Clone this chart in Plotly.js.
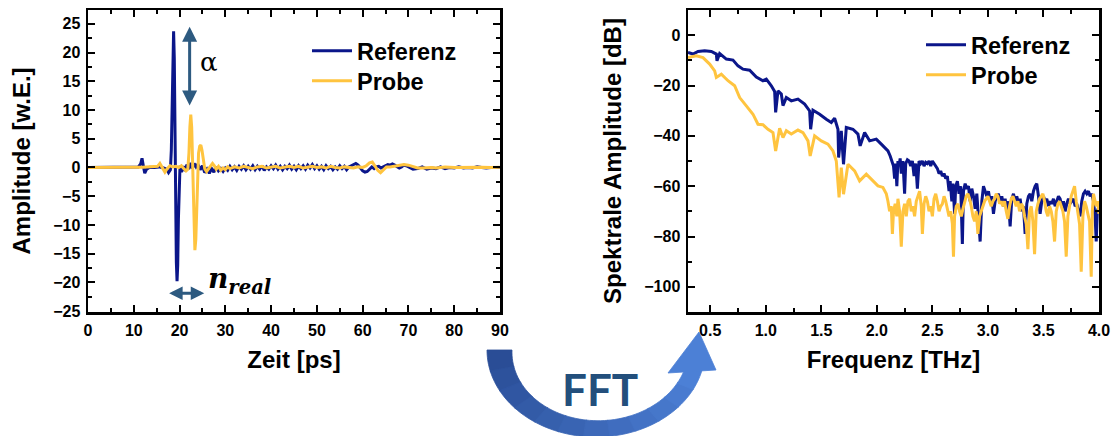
<!DOCTYPE html>
<html><head><meta charset="utf-8">
<script src="https://cdn.plot.ly/plotly-3.0.1.min.js"></script>
<style>html,body{margin:0;padding:0;background:#fff}#chart{width:1116px;height:436px}</style>
</head><body><div id="chart"></div>
<script>
// ---------- time domain (left) ----------
const timeRef = [0,2,4,6,8,10,11,11.5,11.8,12.1,12.4,12.8,13.5,14.5,15.5,16.5,17.2,17.6,18.0,18.2,18.4,18.55,18.7,18.85,19.0,19.15,19.3,19.45,19.6,19.75,19.9,20.1,20.4,20.8,21.2,21.6,22.0,22.4,22.8,23.2,23.6,24.0,24.5,25.0,25.5,26.0,26.5,27.0,27.5,28.0,28.5,29.0,29.5,30.0,30.5,31,31.5,32,32.5,33,33.5,34,34.5,35,35.5,36,36.5,37,37.5,38,38.5,39,39.5,40,40.5,41,41.5,42,42.5,43,43.5,44,44.5,45,45.5,46,46.5,47,47.5,48,48.5,49,49.5,50,50.5,51,51.5,52,52.5,53,53.5,54,54.5,55,55.5,56,56.5,57,57.5,58,58.5,59,59.5,60,60.5,61,61.5,62,62.5,63,63.5,64,64.5,65,65.5,66,66.5,67,67.5,68,68.5,69,69.5,70,71,72,73,74,75,76,77,78,79,80,81,82,83,84,85,86,87,88,89,90];
const ampRef = [0,0,0,0.05,0,0.05,0.1,0.6,1.6,0.2,-1.0,-0.3,0.05,0,0.1,-0.1,-0.3,-0.9,-0.4,3,12,20,23.7,19,6,-8,-16.5,-19.8,-17,-9,-2,0.3,-0.8,0.2,-0.6,0.5,-0.3,0.8,-0.2,0.7,0.1,0.6,-0.4,0.3,-0.9,-0.3,-1.0,-0.2,-0.8,0.1,-0.6,-0.2,-0.7,-0.1,-0.5,0.2,-0.4,0.1,-0.5,0.2,-0.3,0.3,-0.4,0.2,-0.3,0.3,-0.4,0.2,-0.3,0.3,-0.5,0.1,-0.3,0.3,-0.2,0.4,-0.3,0.2,-0.4,0.2,-0.2,0.4,-0.3,0.2,-0.4,0.3,-0.2,0.3,-0.3,0.4,-0.1,0.5,-0.2,0.3,-0.3,0.2,-0.4,0.3,-0.2,0.2,-0.4,0.1,-0.3,0.3,-0.2,0.2,-0.4,0.1,0.3,0.5,0.7,0.4,-0.2,-0.6,-0.8,-0.7,-0.3,0.1,-0.2,0.1,0.2,-0.1,0.1,0.3,0.5,0.4,0.6,0.4,0.2,-0.1,0.1,0.4,0.3,0.1,-0.3,-0.2,0.1,-0.3,-0.1,-0.2,0.1,-0.2,0,-0.1,0.1,-0.1,0,-0.1,0.1,0,-0.1,0,0.05,0];
const timeProbe = [0,3,6,9,12,14,15.2,15.7,16.2,16.8,17.3,17.9,18.5,19.2,19.8,20.4,20.9,21.4,21.8,22.05,22.25,22.45,22.65,22.85,23.0,23.15,23.35,23.55,23.75,23.95,24.15,24.4,24.65,24.9,25.2,25.5,25.9,26.3,26.8,27.2,27.6,28.0,28.5,29.0,29.5,30,30.5,31,32,33,34,35,36,37,38,39,40,41,42,43,44,45,46,47,48,49,50,51,52,53,54,55,56,57,58,59,60,60.8,61.5,62.1,62.7,63.3,63.9,64.5,65.2,66,67,68,69,70,71,72,73,74,75,76,77,78,80,82,84,86,88,90];
const ampProbe = [0,0.05,0,0.05,0.05,0.1,0.2,0.7,0.1,-0.8,-0.2,0.3,0.1,0.2,0,0.3,-0.2,-0.6,-0.3,2.5,7,9.2,7,1.5,-5,-11,-14.4,-12.5,-6,-0.5,2.5,3.7,3.9,3.0,1.2,-0.2,-0.7,-0.2,0.2,0.7,0.3,-0.3,0.2,-0.5,-0.1,-0.4,0.1,-0.2,0.1,-0.1,0.2,0,-0.2,0.1,0.2,-0.1,0.1,0.2,-0.1,0.1,0.2,0,0.2,-0.1,0.1,0.2,0,0.1,-0.1,0.2,0,-0.1,0.1,0,-0.1,0.1,0,0.3,0.8,0.95,0.3,-0.5,-0.9,-0.4,0.1,0.1,0.2,0.3,0.5,0.4,0.2,-0.1,-0.1,0,0,-0.1,0,0.1,0,0.05,0,0.05,0,0.05];

// ---------- spectrum (right) ----------
const freqRef = [0.30,0.345,0.39,0.45,0.51,0.555,0.561,0.585,0.645,0.705,0.75,0.795,0.855,0.915,0.975,1.005,1.05,1.08,1.089,1.11,1.14,1.155,1.185,1.23,1.29,1.35,1.395,1.404,1.425,1.485,1.545,1.59,1.62,1.65,1.656,1.68,1.70,1.725,1.785,1.83,1.85,1.89,1.935,1.995,2.04,
  2.10,2.12,2.135,2.15,2.16,2.17,2.18,2.19,2.2,2.21,2.22,2.235,2.25,2.26,2.275,2.29,2.305,2.32,2.335,2.35,2.365,2.38,2.395,2.41,2.425,2.44,2.455,2.47,2.485,2.5,2.515,2.53,2.545,2.56,2.575,2.59,2.605,2.62,2.635,2.65,2.66,2.675,2.685,2.7,2.71,2.725,2.74,2.755,2.77,2.78,2.795,2.81,2.825,2.84,2.855,2.87,2.885,2.9,2.915,2.93,2.945,2.96,2.975,2.99,3.005,3.02,3.035,3.05,3.065,3.08,3.095,3.11,3.125,3.14,3.155,3.17,3.185,3.2,3.215,3.23,3.245,3.26,3.275,3.29,3.305,3.32,3.335,3.35,3.365,3.38,3.395,3.41,3.425,3.44,3.455,3.47,3.485,3.5,3.515,3.53,3.545,3.56,3.575,3.59,3.605,3.62,3.635,3.65,3.665,3.68,3.695,3.71,3.725,3.74,3.755,3.77,3.785,3.8,3.815,3.83,3.845,3.86,3.875,3.89,3.905,3.92,3.935,3.95,3.965,3.975,3.985,4.0];
const dbRef = [-6.9,-7.5,-6.5,-6.2,-6.5,-7.5,-10.2,-7.3,-9.5,-9.9,-12.2,-13.5,-13.9,-16.6,-18.1,-17.5,-20.1,-22.4,-30.7,-22.1,-23.4,-28,-24.8,-26.1,-25.4,-27.4,-30.1,-37.4,-29.8,-31.4,-33.4,-34.7,-33,-37.4,-48.6,-38,-51.3,-36.7,-37.4,-39.3,-44,-38.7,-42,-41.3,-43.3,
  -46,-48,-50,-52,-57,-51,-60,-50,-52,-49,-55,-50,-63,-51,-49.5,-50,-52,-50,-56,-51,-61,-50,-51,-50,-52,-50.5,-51,-50,-52,-50,-51,-52,-53,-55,-54,-56,-55,-57,-56,-62,-58,-66,-59,-71,-60,-58,-63,-60,-83,-62,-59,-61,-60,-66,-61,-64,-69,-63,-74,-82,-66,-60,-62,-64,-62,-66,-64,-71,-66,-64,-63,-67,-64,-68,-65,-70,-66,-76,-65,-63,-66,-64,-67,-65,-70,-68,-79,-67,-64,-63,-66,-62,-60,-59,-64,-71,-66,-64,-66,-65,-68,-66,-67,-65,-68,-66,-64,-65,-68,-66,-70,-67,-65,-67,-66,-65,-68,-67,-70,-72,-66,-63,-62,-63,-62,-64,-63,-66,-72,-82,-70,-68];
const freqProbe = [0.30,0.375,0.435,0.495,0.54,0.555,0.6,0.66,0.72,0.765,0.825,0.885,0.93,0.975,1.02,1.065,1.089,1.125,1.155,1.185,1.23,1.29,1.335,1.38,1.40,1.44,1.50,1.56,1.605,1.635,1.66,1.68,1.70,1.74,1.80,1.845,1.905,1.965,2.01,2.055,
  2.085,2.1,2.115,2.13,2.14,2.15,2.165,2.18,2.19,2.205,2.22,2.235,2.25,2.265,2.28,2.295,2.31,2.325,2.34,2.355,2.37,2.385,2.4,2.41,2.425,2.44,2.455,2.47,2.485,2.5,2.515,2.53,2.545,2.56,2.575,2.59,2.605,2.62,2.635,2.65,2.665,2.68,2.69,2.7,2.715,2.73,2.745,2.76,2.775,2.79,2.805,2.82,2.835,2.85,2.865,2.88,2.895,2.91,2.925,2.94,2.955,2.97,2.985,3.0,3.015,3.03,3.045,3.06,3.075,3.09,3.105,3.12,3.135,3.15,3.165,3.18,3.195,3.21,3.225,3.24,3.255,3.27,3.285,3.3,3.315,3.33,3.345,3.36,3.375,3.39,3.405,3.42,3.435,3.45,3.465,3.48,3.495,3.51,3.525,3.54,3.555,3.57,3.585,3.6,3.615,3.63,3.645,3.66,3.675,3.69,3.705,3.72,3.735,3.75,3.765,3.78,3.795,3.81,3.825,3.84,3.855,3.87,3.885,3.9,3.915,3.93,3.94,3.95,3.965,3.975,3.99,4.0];
const dbProbe = [-8.9,-8.2,-8.9,-11.5,-14.2,-16.8,-15.5,-18.1,-20.1,-24.8,-28.1,-31.4,-35.4,-35.6,-37.4,-38.7,-46,-37,-40.7,-38,-39.3,-37.7,-38.7,-42,-48,-40,-42,-43.3,-46,-50,-64.5,-52.6,-63.2,-51.3,-53.9,-57.9,-55.2,-57.9,-59.9,-60.5,
  -63,-66,-70,-68,-79,-70,-67,-72,-65,-70,-84,-70,-67,-72,-66,-65,-70,-68,-72,-66,-64,-62,-68,-79,-67,-64,-66,-70,-68,-72,-65,-63,-66,-70,-68,-67,-64,-66,-69,-72,-70,-75,-88,-72,-68,-67,-70,-72,-69,-66,-64,-63,-65,-68,-72,-74,-70,-79,-72,-70,-68,-66,-65,-64,-66,-68,-66,-65,-63,-64,-67,-66,-68,-66,-70,-73,-68,-65,-64,-66,-68,-66,-70,-67,-68,-72,-75,-85,-70,-68,-74,-87,-70,-67,-65,-64,-63,-66,-70,-72,-68,-70,-74,-82,-70,-67,-66,-68,-70,-74,-88,-72,-68,-64,-62,-60,-66,-71,-75,-94,-72,-66,-68,-71,-74,-96,-70,-63,-66,-68,-66,-71];

const seriesNames = ['Referenz','Probe'];
const colRef = '#0b168a', colProbe = '#ffc43f';

const W = 1116, H = 436;
const px = x => x / W, py = y => 1 - y / H;
const FONT = 'Arial, "Liberation Sans", sans-serif';

const traces = [
  {x: timeRef, y: ampRef, name: seriesNames[0], type: 'scatter', mode: 'lines', line: {color: colRef, width: 3}, xaxis: 'x', yaxis: 'y', legend: 'legend'},
  {x: timeProbe, y: ampProbe, name: seriesNames[1], type: 'scatter', mode: 'lines', line: {color: colProbe, width: 3}, xaxis: 'x', yaxis: 'y', legend: 'legend2'},
  {x: freqRef, y: dbRef, name: seriesNames[0], type: 'scatter', mode: 'lines', line: {color: colRef, width: 3}, xaxis: 'x2', yaxis: 'y2', legend: 'legend3'},
  {x: freqProbe, y: dbProbe, name: seriesNames[1], type: 'scatter', mode: 'lines', line: {color: colProbe, width: 3}, xaxis: 'x2', yaxis: 'y2', legend: 'legend4'}
];

const tickFont = {family: FONT, size: 16, color: '#000', weight: 'bold'};
const titleFont = {family: FONT, size: 24, color: '#000', weight: 'bold'};
const axBase = {
  showgrid: false, zeroline: false, showline: true, linecolor: '#000', linewidth: 2.5,
  mirror: 'ticks', ticks: 'inside', ticklen: 7, tickwidth: 2, tickcolor: '#000',
  tickfont: tickFont, ticklabelstandoff: 2
};
const minorT = d => ({dtick: d, ticks: 'inside', ticklen: 4, tickwidth: 2, tickcolor: '#000'});
const dom = [py(312), py(10)];
const legFont = {family: FONT, size: 23.5, color: '#000', weight: 'bold'};
const leg = (x, y) => ({x: px(x), y: py(y), xanchor: 'left', yanchor: 'middle', bgcolor: 'rgba(0,0,0,0)',
  font: legFont, itemwidth: 40, borderwidth: 0});

const layout = {
  width: W, height: H, margin: {l: 0, r: 0, t: 0, b: 0},
  paper_bgcolor: '#fff', plot_bgcolor: '#fff', showlegend: true,
  xaxis: Object.assign({}, axBase, {domain: [px(88), px(500)], range: [0, 90], dtick: 10, tick0: 0, minor: minorT(5),
    title: {text: 'Zeit [ps]', font: titleFont, standoff: 14}, anchor: 'y'}),
  yaxis: Object.assign({}, axBase, {domain: dom, range: [-25.15, 27.4], dtick: 5, tick0: 0, minor: minorT(2.5),
    title: {text: 'Amplitude [w.E.]', font: titleFont, standoff: 16}, anchor: 'x'}),
  xaxis2: Object.assign({}, axBase, {domain: [px(688), px(1099)], range: [0.3, 4.0], dtick: 0.5, tick0: 0, tickformat: '.1f', minor: minorT(0.25),
    title: {text: 'Frequenz [THz]', font: titleFont, standoff: 14}, anchor: 'y2'}),
  yaxis2: Object.assign({}, axBase, {domain: dom, range: [-110, 10], dtick: 20, tick0: 0, minor: minorT(10),
    title: {text: 'Spektrale Amplitude [dB]', font: titleFont, standoff: 16}, anchor: 'x2'}),
  legend: leg(307, 51),
  legend2: leg(307, 81),
  legend3: leg(921, 45),
  legend4: leg(921, 75),
  annotations: [
    {x: 22.2, y: 24.5, ax: 22.2, ay: 10.5, xref: 'x', yref: 'y', axref: 'x', ayref: 'y', text: '', showarrow: true,
     arrowhead: 2, startarrowhead: 2, arrowside: 'end+start', arrowsize: 1.0, startarrowsize: 1.0, arrowwidth: 3, arrowcolor: '#2d5a80'},
    {x: 25.4, y: -21.9, ax: 17.4, ay: -21.9, xref: 'x', yref: 'y', axref: 'x', ayref: 'y', text: '', showarrow: true,
     arrowhead: 2, startarrowhead: 2, arrowside: 'end+start', arrowsize: 0.9, startarrowsize: 0.9, arrowwidth: 3, arrowcolor: '#2d5a80'},
    {x: px(198), y: py(62), xref: 'paper', yref: 'paper', xanchor: 'left', yanchor: 'middle', showarrow: false,
     text: 'α', font: {family: '"DejaVu Serif", "Liberation Serif", serif', size: 26, color: '#000'}},
    {x: px(206), y: py(280), xref: 'paper', yref: 'paper', xanchor: 'left', yanchor: 'middle', showarrow: false,
     text: '<b><i>n</i></b><sub><b><i>real</i></b></sub>', font: {family: '"DejaVu Serif", "Liberation Serif", serif', size: 28, color: '#000'}},
    {x: px(600), y: py(389), xref: 'paper', yref: 'paper', xanchor: 'center', yanchor: 'middle', showarrow: false,
     text: 'FFT', font: {family: 'Lato, "Open Sans", Arial, sans-serif', size: 44, color: '#234f7c', weight: 'bold'}}
  ],
  shapes: []
};

// curved FFT arrow (decoration) built from pixel geometry, split into bands for a left-to-right gradient
(function(){
  const segs = 12;
  const c0 = [42, 77, 150], c1 = [76, 128, 214];
  const cx = 596, cy = 350;
  const aStart = Math.PI, aEnd = 0.23;   // screen angles (y down)
  const outer = a => [cx + 109*Math.cos(a), cy + 87*Math.sin(a)];
  const inner = a => { const f = (aStart - a) / (aStart - aEnd); const rx = 84 + 8*f, ry = 68 + 5*f;
    return [cx + rx*Math.cos(a), cy + ry*Math.sin(a)]; };
  for (let s = 0; s < segs; s++) {
    const t0 = aStart - (aStart - aEnd) * s / segs, t1 = aStart - (aStart - aEnd) * (s + 1) / segs - (s < segs - 1 ? 0.01 : 0);
    const pts = [], n = 6;
    for (let k = 0; k <= n; k++) pts.push(outer(t0 + (t1 - t0) * k / n));
    for (let k = n; k >= 0; k--) pts.push(inner(t0 + (t1 - t0) * k / n));
    const f = s / (segs - 1);
    const col = 'rgb(' + c0.map((v, i) => Math.round(v + (c1[i] - v) * f)).join(',') + ')';
    const d = 'M' + pts.map(p => px(p[0]).toFixed(5) + ',' + py(p[1]).toFixed(5)).join('L') + 'Z';
    layout.shapes.push({type: 'path', xref: 'paper', yref: 'paper', path: d, fillcolor: col, line: {width: 0.8, color: col}, layer: 'above'});
  }
  const head = [[668, 373], [716, 370], [699, 332]];
  const dh = 'M' + head.map(p => px(p[0]).toFixed(5) + ',' + py(p[1]).toFixed(5)).join('L') + 'Z';
  layout.shapes.push({type: 'path', xref: 'paper', yref: 'paper', path: dh, fillcolor: 'rgb(76,128,214)', line: {width: 0.8, color: 'rgb(76,128,214)'}, layer: 'above'});
})();

Plotly.newPlot('chart', traces, layout, {displayModeBar: false, staticPlot: true});
</script>
</body></html>
